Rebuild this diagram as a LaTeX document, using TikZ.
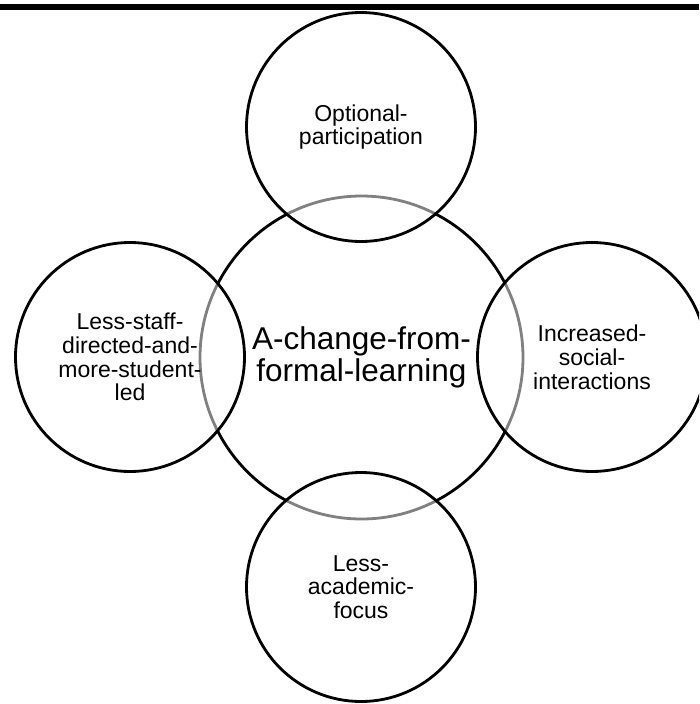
\documentclass[tikz,border=0pt]{standalone}
\usepackage{fontspec}
\setmainfont{Liberation Sans}
\begin{document}
\begin{tikzpicture}[x=1pt,y=-1pt,
  ring/.style={circle, draw=black, line width=2.8pt, inner sep=0pt, align=center},
  hub/.style={ring, minimum size=323pt, font=\fontsize{31.5}{32}\selectfont},
  sat/.style={ring, minimum size=229pt, fill=white, fill opacity=0.5, text opacity=1, font=\fontsize{23}{23.8}\selectfont}]
\useasboundingbox (0,0) rectangle (699,704);
\clip (0,0) rectangle (699,704);
\fill[black] (0,4) rectangle (699,9.5);
\node[hub] (hub) at (361.5,357.5) {A-change-from-\\formal-learning};
\node[sat] (top) at (361,127) {Optional-\\participation};
\node[sat] (left) at (130,357) {Less-staff-\\directed-and-\\more-student-\\led};
\node[sat] (right) at (592,357) {Increased-\\social-\\interactions};
\node[sat] (bottom) at (361,587) {Less-\\academic-\\focus};
\end{tikzpicture}
\end{document}
